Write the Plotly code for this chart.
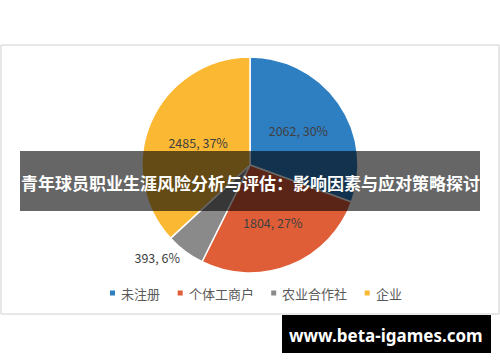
import plotly.graph_objects as go

W, H = 500, 362

categories = ["未注册", "个体工商户", "农业合作社", "企业"]
values = [2062, 1804, 393, 2485]
pct_labels = ["30%", "27%", "6%", "37%"]
colors = ["#2E7EC2", "#E05E37", "#8A8A8A", "#FBB832"]
label_pos = ["inside", "inside", "outside", "inside"]

title_text = "青年球员职业生涯风险分析与评估：影响因素与应对策略探讨"
watermark = "www.beta-igames.com"

def px(x):
    return x / W

def py(y):
    return 1 - y / H

fig = go.Figure()
fig.add_trace(go.Pie(
    labels=categories,
    values=values,
    customdata=pct_labels,
    texttemplate="%{value}, %{customdata}",
    textposition=label_pos,
    insidetextorientation="horizontal",
    textfont=dict(size=12.5, color="#404040", family="Noto Sans CJK SC"),
    marker=dict(colors=colors, line=dict(color="white", width=1.5)),
    sort=False,
    direction="clockwise",
    rotation=0,
    domain=dict(x=[px(142), px(358)], y=[py(273), py(57)]),
    hoverinfo="skip",
    showlegend=False,
))

shapes = [
    dict(type="rect", xref="paper", yref="paper", x0=px(1), x1=px(499), y0=py(314), y1=py(45),
         line=dict(color="#D0D0D0", width=1), fillcolor="rgba(0,0,0,0)", layer="below"),
]

annotations = []

# manual legend (small squares + labels), laid out from the category text lengths
char_w = 12.9
sq = 5
x = 110
ly = 293
for cat, col in zip(categories, colors):
    shapes.append(dict(type="rect", xref="paper", yref="paper",
                       x0=px(x), x1=px(x + sq), y0=py(ly + sq / 2), y1=py(ly - sq / 2),
                       line=dict(width=0), fillcolor=col))
    tx = x + sq + 4
    annotations.append(dict(text=cat, xref="paper", yref="paper", x=px(tx), y=py(ly),
                            showarrow=False, xanchor="left", yanchor="middle",
                            font=dict(size=13, color="#595959", family="Noto Sans CJK SC")))
    x = tx + len(cat) * char_w + 20

shapes += [
    dict(type="rect", xref="paper", yref="paper", x0=px(20), x1=px(480), y0=py(211), y1=py(151),
         line=dict(width=0), fillcolor="rgba(0,0,0,0.6)", layer="above"),
    dict(type="rect", xref="paper", yref="paper", x0=px(282), x1=px(491), y0=py(353), y1=py(315),
         line=dict(width=0), fillcolor="#000000", layer="above"),
]

annotations += [
    dict(text="<b>" + title_text + "</b>", xref="paper", yref="paper", x=px(250), y=py(182),
         showarrow=False, xanchor="center", yanchor="middle",
         font=dict(size=17, color="white", family="Noto Sans CJK SC")),
    dict(text="<b>" + watermark + "</b>", xref="paper", yref="paper", x=px(386), y=py(335),
         showarrow=False, xanchor="center", yanchor="middle",
         font=dict(size=17, color="white", family="Noto Sans")),
]

fig.update_layout(
    width=W, height=H,
    margin=dict(l=0, r=0, t=0, b=0),
    paper_bgcolor="white",
    plot_bgcolor="white",
    shapes=shapes,
    annotations=annotations,
    showlegend=False,
)

fig.write_html("out.html")
